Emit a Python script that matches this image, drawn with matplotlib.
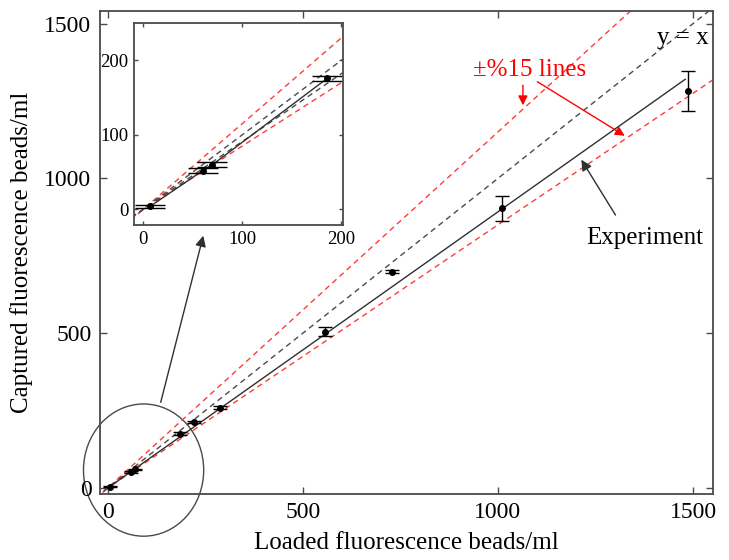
import matplotlib
matplotlib.use('Agg')
import matplotlib.pyplot as plt
from matplotlib.patches import Ellipse, FancyArrowPatch
import numpy as np

# 数据：加载 vs 捕获荧光微球浓度
loaded = [7, 60, 70, 186, 220, 287, 556, 728, 1010, 1487]
captured = [4, 52, 60, 176, 214, 259, 505, 699, 903, 1282]
captured_err = [2, 3, 3, 3.5, 4, 5, 15, 5, 40, 65]

fit_slope = 0.892
fit_range = [0, 1480]
inset_slope = 0.91
band = [1.15, 0.85]

main_ticks = [0, 500, 1000, 1500]
inset_ticks = [0, 100, 200]

plt.rcParams['font.family'] = ['Liberation Serif', 'DejaVu Serif']

RED = '#ff3b3b'
GRAY = '#4a4a4a'
LINE = '#303030'

fig = plt.figure(figsize=(7.29, 5.6), dpi=100)
ax = fig.add_axes([0.137, 0.118, 0.841, 0.862])


def style_axes(a, ticks, fs):
    a.set_xticks(ticks)
    a.set_yticks(ticks)
    a.tick_params(direction='in', top=True, right=True, labelsize=fs,
                  length=5, width=1, color=GRAY, pad=6)
    for s in a.spines.values():
        s.set_color(GRAY)
        s.set_linewidth(1.3)


# 主图
xx = np.array([-50, 1600])
ax.plot(xx, xx * band[0], '--', color=RED, lw=1, dashes=(4, 3))
ax.plot(xx, xx * band[1], '--', color=RED, lw=1, dashes=(4, 3))
ax.plot(xx, xx, '--', color=GRAY, lw=1, dashes=(4, 3))
fx = np.array(fit_range)
ax.plot(fx, fx * fit_slope, '-', color=LINE, lw=1)
ax.errorbar(loaded, captured, yerr=captured_err, fmt='o', color='black',
            ms=4, capsize=5, elinewidth=1, capthick=1)

ax.set_xlim(-20, 1551)
ax.set_ylim(-19, 1540)
style_axes(ax, main_ticks, 17)
ax.set_xlabel('Loaded fluorescence beads/ml', fontsize=18, labelpad=6)
ax.set_ylabel('Captured fluorescence beads/ml', fontsize=18, labelpad=8)

# 标注
ax.text(1474, 1455, 'y = x', fontsize=18, ha='center', va='center')
ax.text(1082, 1350, '±%15 lines', fontsize=18, color='red', ha='center', va='center')
ax.annotate('', xy=(1064, 1227), xytext=(1064, 1310),
            arrowprops=dict(arrowstyle='-|>', color='red', lw=1, mutation_scale=14))
ax.annotate('', xy=(1331, 1133), xytext=(1095, 1317),
            arrowprops=dict(arrowstyle='-|>', color='red', lw=1, mutation_scale=14))
ax.annotate('', xy=(1210, 1068), xytext=(1305, 874),
            arrowprops=dict(arrowstyle='-|>', color=LINE, lw=1, mutation_scale=16))
ax.text(1377, 809, 'Experiment', fontsize=18, ha='center', va='center')

# 原点附近的圈
ax.add_patch(Ellipse((92, 58), 308, 427, fill=False, edgecolor=GRAY, lw=1, clip_on=False))
fig.add_artist(FancyArrowPatch((0.2195, 0.2768), (0.2798, 0.5839), transform=fig.transFigure,
                               arrowstyle='-|>', color=LINE, lw=1, mutation_scale=16))

# 放大插图
ins = fig.add_axes([0.184, 0.598, 0.287, 0.361])
ix = np.array([-20, 220])
ins.plot(ix, ix * band[0], '--', color=RED, lw=1, dashes=(4, 3))
ins.plot(ix, ix * band[1], '--', color=RED, lw=1, dashes=(4, 3))
ins.plot(ix, ix, '--', color=GRAY, lw=1, dashes=(4, 3))
ins.plot(ix, ix * inset_slope, '--', color=GRAY, lw=1, dashes=(4, 3))
ins.plot(loaded[:4], captured[:4], '-', color=LINE, lw=1)
ins.errorbar(loaded[:4], captured[:4], yerr=captured_err[:4], fmt='o', color='black',
             ms=4, capsize=11, elinewidth=1, capthick=1)
ins.set_xlim(-9, 202)
ins.set_ylim(-21, 250)
style_axes(ins, inset_ticks, 13.5)
ins.tick_params(length=3, pad=4)

fig.savefig('out.png', dpi=100)
